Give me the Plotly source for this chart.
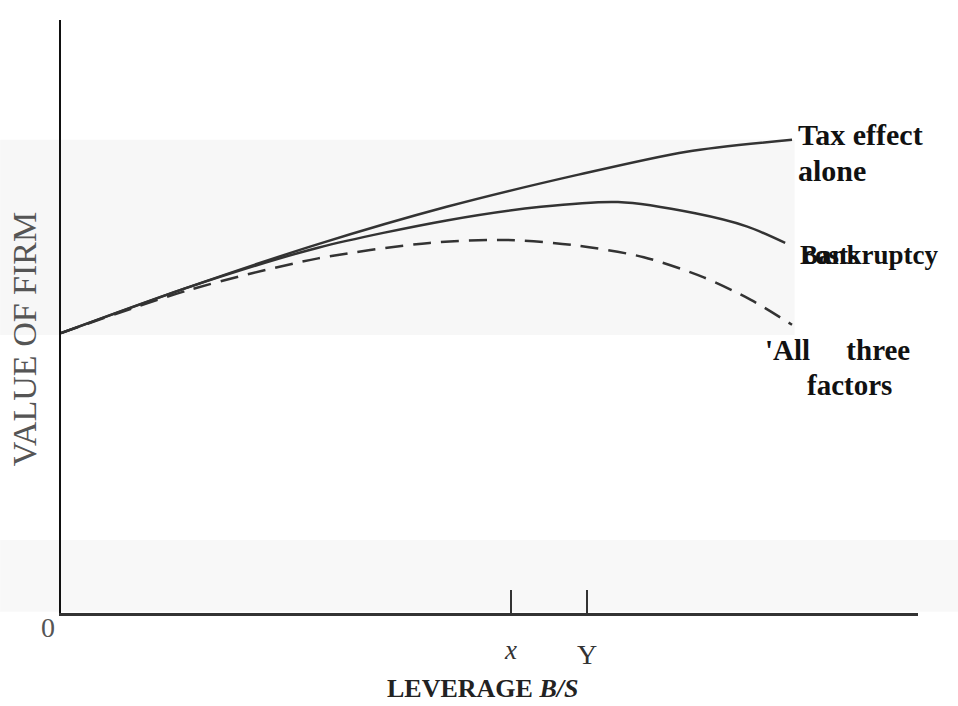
import plotly.graph_objects as go

# Data (arbitrary units)
lev_tax = [0, 1.5, 3.0, 4.5, 6.0, 7.3, 8.53]
val_tax = [4.72, 5.50, 6.22, 6.85, 7.38, 7.78, 7.98]

lev_bank = [0, 1.5, 3.0, 4.5, 5.6, 6.5, 7.4, 8.0, 8.45]
val_bank = [4.72, 5.50, 6.16, 6.62, 6.85, 6.93, 6.74, 6.52, 6.24]

lev_all = [0, 1.5, 3.0, 4.3, 5.2, 6.0, 6.8, 7.5, 8.05, 8.53]
val_all = [4.72, 5.45, 5.98, 6.24, 6.29, 6.20, 6.00, 5.66, 5.28, 4.86]

tick_vals = [5.25, 6.14]
tick_labels = ["<i>x</i>", "Y"]

SERIF = "Liberation Serif, Times New Roman, serif"

fig = go.Figure()
fig.add_trace(go.Scatter(x=lev_tax, y=val_tax, mode="lines", line=dict(color="#333", width=2.5, shape="spline", smoothing=0.8), showlegend=False))
fig.add_trace(go.Scatter(x=lev_bank, y=val_bank, mode="lines", line=dict(color="#333", width=2.5, shape="spline", smoothing=0.8), showlegend=False))
fig.add_trace(go.Scatter(x=lev_all, y=val_all, mode="lines", line=dict(color="#333", width=2.5, shape="spline", smoothing=0.8, dash="18px,10px"), showlegend=False))

# faint scan bands
fig.add_shape(type="rect", xref="paper", yref="paper", x0=-0.071, x1=0.856, y0=0.469, y1=0.798,
              fillcolor="#f7f7f7", line_width=0, layer="below")
fig.add_shape(type="rect", xref="paper", yref="paper", x0=-0.071, x1=1.047, y0=0.002, y1=0.123,
              fillcolor="#f8f8f8", line_width=0, layer="below")

ann = []
# right-hand labels
ann.append(dict(x=lev_tax[-1], y=val_tax[-1], text="<b>Tax effect</b>", xanchor="left", yanchor="middle", xshift=4, yshift=5,
                showarrow=False, font=dict(family=SERIF, size=30, color="#111")))
ann.append(dict(x=lev_tax[-1], y=val_tax[-1], text="<b>alone</b>", xanchor="left", yanchor="middle", xshift=4, yshift=-31,
                showarrow=False, font=dict(family=SERIF, size=30, color="#111")))
ann.append(dict(x=lev_bank[-1], y=val_bank[-1], text="<b>Bankruptcy</b>", xanchor="left", yanchor="middle", xshift=13, yshift=-12,
                showarrow=False, font=dict(family=SERIF, size=27, color="#111")))
ann.append(dict(x=lev_bank[-1], y=val_bank[-1], text="<b>costs</b>", xanchor="left", yanchor="middle", xshift=16, yshift=-12,
                showarrow=False, font=dict(family=SERIF, size=27, color="#111")))
ann.append(dict(x=lev_all[-1], y=val_all[-1], text="<b>'All     three</b>", xanchor="left", yanchor="middle", xshift=-29, yshift=-25,
                showarrow=False, font=dict(family=SERIF, size=29, color="#111")))
ann.append(dict(x=lev_all[-1], y=val_all[-1], text="<b>factors</b>", xanchor="left", yanchor="middle", xshift=13, yshift=-60,
                showarrow=False, font=dict(family=SERIF, size=29, color="#111")))
# tick labels
for v, t, s, ys in zip(tick_vals, tick_labels, [27, 28], [-37, -41]):
    ann.append(dict(x=v, y=0, text=t, xanchor="center", yanchor="middle", yshift=ys, showarrow=False,
                    font=dict(family=SERIF, size=s, color="#333")))
# origin
ann.append(dict(x=0, y=0, text="0", xanchor="center", yanchor="middle", xshift=-13, yshift=-14, showarrow=False,
                font=dict(family=SERIF, size=28, color="#555")))
# axis titles
ann.append(dict(xref="paper", yref="paper", x=0.492, y=-0.127, text="<b>LEVERAGE <i>B/S</i></b>", xanchor="center", yanchor="middle",
                showarrow=False, font=dict(family=SERIF, size=26, color="#222")))
ann.append(dict(xref="paper", yref="paper", x=-0.043, y=0.462, text="VALUE OF FIRM", textangle=-90, xanchor="center", yanchor="middle",
                showarrow=False, font=dict(family=SERIF, size=34, color="#555")))

fig.update_layout(
    width=958, height=706,
    margin=dict(l=61, r=40, t=20, b=93),
    paper_bgcolor="white", plot_bgcolor="white",
    annotations=ann,
    xaxis=dict(range=[0, 10], showgrid=False, zeroline=False, showline=True, linecolor="#333", linewidth=3,
               ticks="inside", ticklen=23, tickwidth=2, tickcolor="#333", tickvals=tick_vals, showticklabels=False),
    yaxis=dict(range=[0, 10], showgrid=False, zeroline=False, showline=True, linecolor="#111", linewidth=2,
               ticks="", showticklabels=False),
)

fig.write_html("out.html", config={"displayModeBar": False},
               post_script="document.body.style.margin='0';document.body.style.padding='0';")
